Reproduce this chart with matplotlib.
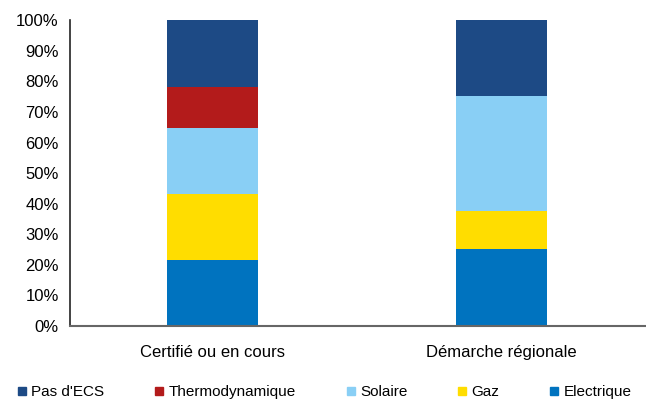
import matplotlib.pyplot as plt
from matplotlib.lines import Line2D
from matplotlib import font_manager

categories = ['Certifié ou en cours', 'Démarche régionale']
series = ["Pas d'ECS", 'Thermodynamique', 'Solaire', 'Gaz', 'Electrique']
electrique = [21.5, 25.2]
gaz = [21.5, 12.3]
solaire = [21.6, 37.6]
thermo = [13.6, 0.0]
pas_ecs = [21.8, 24.9]
yticks = [0, 10, 20, 30, 40, 50, 60, 70, 80, 90, 100]

names = {f.name for f in font_manager.fontManager.ttflist}
fam = 'Liberation Sans Narrow' if 'Liberation Sans Narrow' in names else 'Liberation Sans'
plt.rcParams['font.family'] = [fam, 'DejaVu Sans']

colors = {
    "Pas d'ECS": '#1d4a85',
    'Thermodynamique': '#b31b1b',
    'Solaire': '#89cff5',
    'Gaz': '#ffdd00',
    'Electrique': '#0073bf',
}

fig = plt.figure(figsize=(6.46, 4.03), dpi=100)
ax = fig.add_axes([0.108, 0.191, 0.892, 0.759])

x = list(range(len(categories)))
bottom = [0.0] * len(categories)
stack = [('Electrique', electrique), ('Gaz', gaz), ('Solaire', solaire),
         ('Thermodynamique', thermo), ("Pas d'ECS", pas_ecs)]
for name, vals in stack:
    ax.bar(x, vals, width=0.313, bottom=bottom, color=colors[name], linewidth=0)
    bottom = [b + v for b, v in zip(bottom, vals)]

ax.set_xlim(-0.494, 1.5)
ax.set_ylim(0, 100)
ax.set_yticks(yticks)
ax.set_yticklabels([f'{t}%' for t in yticks], fontsize=12)
ax.set_xticks(x)
ax.set_xticklabels(categories, fontsize=12)
ax.tick_params(axis='both', length=0, pad=8)
ax.tick_params(axis='x', pad=14)

for s in ['top', 'right']:
    ax.spines[s].set_visible(False)
ax.spines['left'].set_color('#222222')
ax.spines['left'].set_linewidth(1.2)
ax.spines['bottom'].set_color('#666666')
ax.spines['bottom'].set_linewidth(1.5)

handles = [Line2D([], [], marker='s', linestyle='', markersize=6,
                  color=colors[n]) for n in series]
fig.legend(handles, series, loc='center', bbox_to_anchor=(0.5, 1 - 392 / 403),
           ncol=5, frameon=False, fontsize=11, handletextpad=0.1,
           columnspacing=3.1, handlelength=1.0)

fig.savefig('out.png', dpi=100)
